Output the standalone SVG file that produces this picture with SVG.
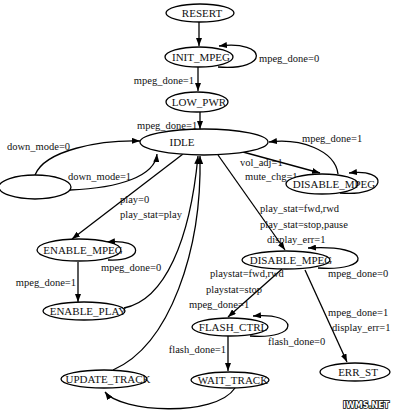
<svg xmlns="http://www.w3.org/2000/svg" width="400" height="414" viewBox="0 0 400 414">
<defs>
<marker id="ah" markerUnits="userSpaceOnUse" markerWidth="8" markerHeight="6" refX="8" refY="3" orient="auto">
<path d="M0,0 L8,3 L0,6 z" fill="#000"/>
</marker>
<style>
.n{fill:#fff;stroke:#000;stroke-width:1.3}
.t{font-family:"Liberation Serif",serif;font-size:11px;fill:#111;text-anchor:middle}
.l{font-family:"Liberation Serif",serif;font-size:10.5px;fill:#111}
.e{fill:none;stroke:#000;stroke-width:1.3;marker-end:url(#ah)}
</style>
</defs>
<rect width="400" height="414" fill="#fff"/>
<g id="connectors">
<path class="e" d="M199,22 L199,46"/>
<path class="e" d="M218,67 C270,71 268,40 219,46"/>
<path class="e" d="M198,67 L198,91"/>
<path class="e" d="M200,112 L200,129"/>
<path class="e" d="M35,175 C45,150 100,140 140,141"/>
<path class="e" d="M70,190 C120,188 155,176 157,154"/>
<path class="e" d="M183,154 L72,239"/>
<path class="e" d="M108,260 C145,262 145,238 107,242"/>
<path class="e" d="M78,262 L78,302"/>
<path class="e" d="M124,308 C165,300 190,240 198,156"/>
<path class="e" d="M113,370 C170,345 202,250 200,156"/>
<path class="e" d="M243,152 L320,173"/>
<path class="e" d="M338,174 C335,150 300,138 269,142"/>
<path class="e" d="M340,193 C388,197 390,168 349,173"/>
<path class="e" d="M218,155 L285,250"/>
<path class="e" d="M318,268 C372,272 374,244 308,248"/>
<path class="e" d="M282,269 L228,317"/>
<path class="e" d="M305,270 L347,362"/>
<path class="e" d="M250,336 C300,340 300,312 253,316"/>
<path class="e" d="M228,336 L228,371"/>
<path class="e" d="M235,388 C215,418 120,412 105,392"/>
</g>
<g id="labels">
<text class="l" x="259" y="62">mpeg_done=0</text>
<text class="l" x="194" y="84" text-anchor="end">mpeg_done=1</text>
<text class="l" x="137" y="129">mpeg_done=1</text>
<text class="l" x="7" y="150">down_mode=0</text>
<text class="l" x="68" y="180">down_mode=1</text>
<text class="l" x="120" y="203">play=0</text>
<text class="l" x="120" y="218">play_stat=play</text>
<text class="l" x="101" y="271">mpeg_done=0</text>
<text class="l" x="76" y="286" text-anchor="end">mpeg_done=1</text>
<text class="l" x="302" y="142">mpeg_done=1</text>
<text class="l" x="240" y="166">vol_adj=1</text>
<text class="l" x="245" y="180">mute_chg=1</text>
<text class="l" x="260" y="212">play_stat=fwd,rwd</text>
<text class="l" x="260" y="228">play_stat=stop,pause</text>
<text class="l" x="267" y="243">display_err=1</text>
<text class="l" x="328" y="277">mpeg_done=0</text>
<text class="l" x="210" y="277">playstat=fwd,rwd</text>
<text class="l" x="206" y="293">playstat=stop</text>
<text class="l" x="189" y="308">mpeg_done=1</text>
<text class="l" x="328" y="316">mpeg_done=1</text>
<text class="l" x="332" y="331">display_err=1</text>
<text class="l" x="268" y="345">flash_done=0</text>
<text class="l" x="226" y="353" text-anchor="end">flash_done=1</text>
</g>
<g id="RESERT"><ellipse class="n" cx="200" cy="13" rx="34" ry="9"/><text class="t" x="202" y="17">RESERT</text></g>
<g id="INIT_MPEG"><ellipse class="n" cx="199" cy="57" rx="34" ry="10"/><text class="t" x="201" y="61">INIT_MPEG</text></g>
<g id="LOW_PWR"><ellipse class="n" cx="197" cy="102" rx="31" ry="10"/><text class="t" x="199" y="106">LOW_PWR</text></g>
<g id="IDLE"><ellipse class="n" cx="204" cy="142" rx="64" ry="13"/><text class="t" x="182" y="146">IDLE</text></g>
<g id="BLANK"><ellipse class="n" cx="35" cy="187" rx="36" ry="12"/></g>
<g id="ENABLE_MPEG"><ellipse class="n" cx="79" cy="250" rx="42" ry="11"/><text class="t" x="83" y="254">ENABLE_MPEG</text></g>
<g id="ENABLE_PLAY"><ellipse class="n" cx="84" cy="311" rx="41" ry="9"/><text class="t" x="88" y="315">ENABLE_PLAY</text></g>
<g id="DISABLE_MPEG_1"><ellipse class="n" cx="322" cy="184" rx="36" ry="10"/><text class="t" x="334" y="188">DISABLE_MPEG</text></g>
<g id="DISABLE_MPEG_2"><ellipse class="n" cx="286" cy="260" rx="44" ry="9"/><text class="t" x="291" y="264">DISABLE_MPEG</text></g>
<g id="FLASH_CTRL"><ellipse class="n" cx="230" cy="327" rx="38" ry="9"/><text class="t" x="233" y="331">FLASH_CTRL</text></g>
<g id="ERR_ST"><ellipse class="n" cx="355" cy="372" rx="35" ry="9"/><text class="t" x="358" y="376">ERR_ST</text></g>
<g id="WAIT_TRACK"><ellipse class="n" cx="230" cy="380" rx="39" ry="8"/><text class="t" x="233" y="384">WAIT_TRACK</text></g>
<g id="UPDATE_TRACK"><ellipse class="n" cx="104" cy="379" rx="43" ry="9"/><text class="t" x="108" y="383">UPDATE_TRACK</text></g>
<text x="366" y="408" font-family="'DejaVu Sans',sans-serif" font-size="8" font-weight="bold" fill="#fff" stroke="#000" stroke-width="1.5" paint-order="stroke" text-anchor="middle">IWMS.NET</text>
</svg>
